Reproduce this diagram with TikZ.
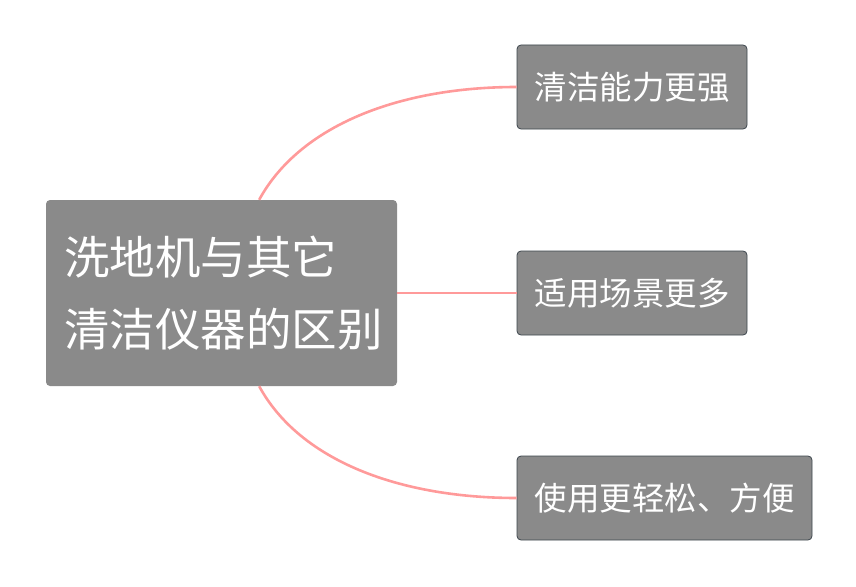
\documentclass[tikz,border=0pt]{standalone}
\usepackage{fontspec}
\newfontfamily\cjk{Noto Sans CJK SC}
\usepackage{xcolor}
\usepackage{tikz}
\usetikzlibrary{positioning, calc}

\definecolor{nodegray}{HTML}{8A8A8A}
\definecolor{nodeedge}{HTML}{3D464D}
\definecolor{linkpink}{HTML}{FF9A9A}

\begin{document}
\begin{tikzpicture}[
    x=1pt, y=-1pt,
    topic/.style={rectangle, rounded corners=4pt, fill=nodegray, text=white, minimum width=351pt, minimum height=186pt, inner xsep=18pt, align=left, font=\cjk\fontsize{45.5}{72}\selectfont},
    branch/.style={rectangle, rounded corners=4pt, draw=nodeedge, line width=0.8pt, fill=nodegray, text=white, minimum height=84pt, inner xsep=16pt, font=\cjk\fontsize{32.5}{36}\selectfont},
    link/.style={draw=linkpink, line width=2.6pt},
  ]

    % frame
    \useasboundingbox (0,0) rectangle (856,586);

    % Main topic
    \node[topic, text width=315pt] (main) at (221.5, 293) {洗地机与其它\\清洁仪器的区别};

    % Branches
    \node[branch, minimum width=230pt] (b1) at (632, 87) {清洁能力更强};
    \node[branch, minimum width=230pt] (b2) at (632, 293) {适用场景更多};
    \node[branch, minimum width=295pt] (b3) at (664.5, 498) {使用更轻松、方便};

    % Links
    \draw[link] (main.68.6) .. controls (300, 125) and (400, 87) .. (b1.west);
    \draw[link] (main.east) -- (b2.west);
    \draw[link] (main.-68.6) .. controls (300, 461) and (400, 498) .. (b3.west);

  \end{tikzpicture}
\end{document}
